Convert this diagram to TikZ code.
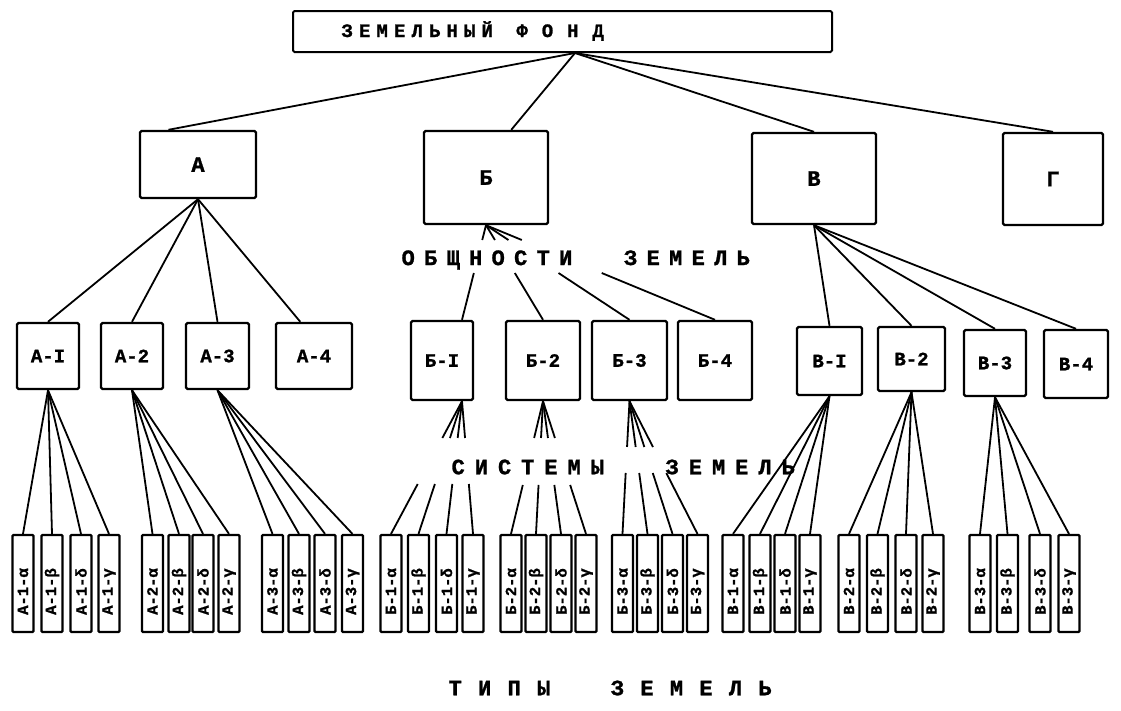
\documentclass[tikz,border=0pt]{standalone}
\usepackage{fontspec}
\newfontfamily\tw{Liberation Mono Bold}[FakeBold=1.2]
\usetikzlibrary{calc}
\tikzset{
  box/.style={draw, line width=2.4pt, rounded corners=1.5pt, inner sep=0pt, font=\tw\fontsize{19}{19}\selectfont},
  bigbox/.style={box, font=\tw\fontsize{22}{22}\selectfont},
  sbox/.style={draw, line width=2.2pt, rounded corners=1pt, inner sep=0pt, minimum width=21pt, minimum height=97pt, font=\tw\fontsize{15.5}{15.5}\selectfont},
  conn/.style={line width=1.8pt},
  lbl/.style={inner sep=0pt, anchor=west, font=\tw\fontsize{22}{22}\selectfont}
}
\newcommand\bx[7][box]{\node[#1, minimum width={(#5-#3)*1pt}, minimum height={(#6-#4)*1pt}] (#2) at ({(#3+#5)/2},{(#4+#6)/2}) {#7};}
\newcommand\sbx[3]{\node[sbox] (#1) at (#2,583.5) {\rotatebox{90}{#3\hspace*{16pt}}};}
\newcommand\gl[4]{%
  \draw[conn] (#1) -- (intersection cs:first line={(#1)--(#2)}, second line={(0,#3)--(10,#3)});
  \draw[conn] (intersection cs:first line={(#1)--(#2)}, second line={(0,#4)--(10,#4)}) -- (#2);}
\begin{document}
\begin{tikzpicture}[x=1pt,y=-1pt]
\useasboundingbox (0,0) rectangle (1121,710);
% title
\node[box, line width=2pt, minimum width=539pt, minimum height=41pt] (T) at (562.5,31.5) {};
\node[lbl, font=\tw\fontsize{19}{19}\selectfont] (Tt) at (341.3,31) {\spaceskip=6.1pt З Е М Е Л Ь Н Ы Й\hspace{23.6pt}{\spaceskip=13.9pt Ф О Н Д}};
% level 2
\bx[bigbox]{A}{140}{131}{256}{198}{А}
\bx[bigbox]{B}{424}{131}{548}{224}{Б}
\bx[bigbox]{V}{752}{133}{876}{224}{В}
\bx[bigbox]{G}{1003}{133}{1103}{225}{Г}
% level 3
\bx{A1}{17}{323}{79}{389}{А-I}
\bx{A2}{101}{323}{163}{389}{А-2}
\bx{A3}{186}{323}{249}{389}{А-3}
\bx{A4}{276}{323}{352}{389}{А-4}
\bx{B1}{411}{321}{473}{400}{Б-I}
\bx{B2}{506}{321}{580}{400}{Б-2}
\bx{B3}{592}{321}{667}{400}{Б-3}
\bx{B4}{678}{321}{752}{400}{Б-4}
\bx{V1}{797}{327}{862}{395}{В-I}
\bx{V2}{878}{327}{945}{391}{В-2}
\bx{V3}{964}{330}{1026}{396}{В-3}
\bx{V4}{1044}{330}{1108}{398}{В-4}
\coordinate (B1top) at ($(B1.north)+(20,0)$);
\coordinate (B1bot) at ($(B1.south)+(20,0)$);
% level 4
\sbx{A1a}{23}{А-1-α}\sbx{A1b}{52}{А-1-β}\sbx{A1c}{81}{А-1-δ}\sbx{A1d}{109}{А-1-γ}
\sbx{A2a}{152.5}{А-2-α}\sbx{A2b}{179}{А-2-β}\sbx{A2c}{203}{А-2-δ}\sbx{A2d}{229}{А-2-γ}
\sbx{A3a}{272.5}{А-3-α}\sbx{A3b}{299}{А-3-β}\sbx{A3c}{325}{А-3-δ}\sbx{A3d}{352.5}{А-3-γ}
\sbx{B1a}{391}{Б-1-α}\sbx{B1b}{418.5}{Б-1-β}\sbx{B1c}{446.5}{Б-1-δ}\sbx{B1d}{473}{Б-1-γ}
\sbx{B2a}{511}{Б-2-α}\sbx{B2b}{536}{Б-2-β}\sbx{B2c}{561}{Б-2-δ}\sbx{B2d}{586}{Б-2-γ}
\sbx{B3a}{622.5}{Б-3-α}\sbx{B3b}{647.5}{Б-3-β}\sbx{B3c}{672.5}{Б-3-δ}\sbx{B3d}{697.5}{Б-3-γ}
\sbx{V1a}{733}{В-1-α}\sbx{V1b}{760}{В-1-β}\sbx{V1c}{785}{В-1-δ}\sbx{V1d}{810}{В-1-γ}
\sbx{V2a}{849}{В-2-α}\sbx{V2b}{877.5}{В-2-β}\sbx{V2c}{906}{В-2-δ}\sbx{V2d}{933}{В-2-γ}
\sbx{V3a}{980}{В-3-α}\sbx{V3b}{1007.5}{В-3-β}\sbx{V3c}{1040}{В-3-δ}\sbx{V3d}{1069}{В-3-γ}
% labels
\node[lbl] (L1) at (401.4,260) {\spaceskip=9.3pt О Б Щ Н О С Т И\hspace{51.8pt}З Е М Е Л Ь};
\node[lbl] (L2) at (451.4,467) {\spaceskip=10pt С И С Т Е М Ы\hspace{61.6pt}З Е М Е Л Ь};
\node[lbl] (L3) at (448.4,688) {\spaceskip=16.3pt Т И П Ы\hspace{60.6pt}З Е М Е Л Ь};
% connectors title -> level 2
\coordinate (t0) at ($(T.south)+(12.5,0)$);
\draw[conn] (t0) -- ($(A.north)!0.5!(A.north west)$);
\draw[conn] (t0) -- ($(B.north)!0.4!(B.north east)$);
\draw[conn] (t0) -- (V.north);
\draw[conn] (t0) -- (G.north);
% level 2 -> level 3
\foreach \n in {1,2,3} \draw[conn] (A.south) -- (A\n.north);
\draw[conn] (A.south) -- ($(A4.north)!0.35!(A4.north west)$);
\gl{B.south}{B1top}{240}{273}
\foreach \n in {2,3,4} {\gl{B.south}{B\n.north}{240}{273}}
\foreach \n in {1,2,3,4} \draw[conn] (V.south) -- (V\n.north);
% level 3 -> level 4
\foreach \s in {a,b,c,d} {
  \draw[conn] (A1.south) -- (A1\s.north);
  \draw[conn] (A2.south) -- (A2\s.north);
  \draw[conn] (A3.south) -- (A3\s.north);
  \gl{B1bot}{B1\s.north}{438}{484}
  \gl{B2.south}{B2\s.north}{438}{485}
  \gl{B3.south}{B3\s.north}{447}{473}
  \draw[conn] (V1.south) -- (V1\s.north);
  \draw[conn] (V2.south) -- (V2\s.north);
  \draw[conn] (V3.south) -- (V3\s.north);
}
\end{tikzpicture}
\end{document}
